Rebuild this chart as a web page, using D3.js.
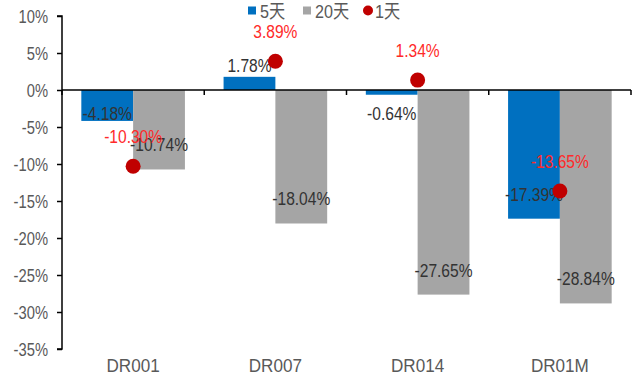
<!DOCTYPE html>
<html>
<head>
<meta charset="utf-8">
<script src="https://cdn.jsdelivr.net/npm/d3@7"></script>
<style>
  html, body { margin: 0; padding: 0; background: #fff; }
  svg { display: block; }
  text { font-family: "Liberation Sans", Arial, "Noto Sans CJK SC", sans-serif; }
</style>
</head>
<body>
<svg id="chart" width="640" height="378"></svg>
<script>
// Categories and series (percent changes)
const categories = ["DR001", "DR007", "DR014", "DR01M"];
const seriesNames = ["5天", "20天"];
const values5d = [-4.18, 1.78, -0.64, -17.39];
const values20d = [-10.74, -18.04, -27.65, -28.84];
const values1d = [-10.30, 3.89, 1.34, -13.65];
const yTicks = [10, 5, 0, -5, -10, -15, -20, -25, -30, -35];

const barColors = { "5天": "#0070C0", "20天": "#A5A5A5" };
const dotColor = "#C00000";
const dotLabelColor = "#FF2A2A";

// condensed look for all labels
const SQUEEZE = 0.82;
const place = (sel, fx, fy, sx = SQUEEZE) =>
  sel.attr("transform", (d, i) => `translate(${fx(d, i)},${fy(d, i)}) scale(${sx},1)`);

const svg = d3.select("#chart");
const plotLeft = 62, plotRight = 631, plotTop = 16, plotBottom = 349;

const y = d3.scaleLinear().domain([-35, 10]).range([plotBottom, plotTop]);
const x0 = d3.scaleBand().domain(categories).range([plotLeft, plotRight]);
const groupW = 103.6;
const x1 = d3.scaleBand().domain(seriesNames)
  .range([(x0.bandwidth() - groupW) / 2, (x0.bandwidth() + groupW) / 2]);

const rows = categories.map((c, i) => ({
  cat: c,
  bars: [
    { key: "5天", v: values5d[i] },
    { key: "20天", v: values20d[i] }
  ],
  day1: values1d[i]
}));

const fmt = v => v.toFixed(2) + "%";

// Bars
const grp = svg.append("g").selectAll("g.cat").data(rows).join("g")
  .attr("class", "cat")
  .attr("transform", d => `translate(${x0(d.cat)},0)`);

grp.selectAll("rect").data(d => d.bars).join("rect")
  .attr("x", d => x1(d.key))
  .attr("width", x1.bandwidth())
  .attr("y", d => Math.min(y(d.v), y(0)))
  .attr("height", d => Math.abs(y(d.v) - y(0)))
  .attr("fill", d => barColors[d.key]);

// Y axis
const yAxis = d3.axisLeft(y).tickValues(yTicks).tickSize(5).tickPadding(0)
  .tickFormat(d => d + "%");
const ya = svg.append("g").attr("transform", `translate(${plotLeft},0)`).call(yAxis);
ya.select(".domain").attr("stroke", "#000").attr("stroke-width", 1.5)
  .attr("d", `M-5,${y(10)}H0V${y(-35)}H-5`);
ya.selectAll(".tick line").attr("stroke", "#000").attr("stroke-width", 1.5);
ya.selectAll(".tick text")
  .attr("fill", "#595959").attr("font-size", 18)
  .attr("font-family", "Liberation Sans, Arial, sans-serif")
  .attr("x", null).attr("dy", "0.35em")
  .attr("transform", `translate(-14,0) scale(${SQUEEZE},1)`);

// Zero line with category separators
const xAxis = d3.axisBottom(x0).tickSize(0).tickFormat("");
const xa = svg.append("g").attr("transform", `translate(0,${y(0)})`).call(xAxis);
xa.select(".domain").attr("stroke", "#000").attr("stroke-width", 1.5)
  .attr("d", `M${plotLeft},0H${plotRight}`);
const seps = d3.range(categories.length + 1).map(i => plotLeft + i * x0.step());
xa.selectAll("line.sep").data(seps).join("line")
  .attr("class", "sep")
  .attr("x1", d => d).attr("x2", d => d)
  .attr("y1", 0).attr("y2", 5)
  .attr("stroke", "#000").attr("stroke-width", 1.5);

// Category labels at the bottom
svg.append("g").selectAll("text").data(categories).join("text")
  .call(place, d => x0(d) + x0.bandwidth() / 2, () => 372, 0.9)
  .attr("text-anchor", "middle")
  .attr("font-size", 19)
  .attr("fill", "#595959")
  .text(d => d);

// Bar value labels
grp.selectAll("text.val").data(d => d.bars).join("text")
  .attr("class", "val")
  .call(place,
    d => x1(d.key) + x1.bandwidth() / 2,
    d => d.v >= 0 ? y(d.v) - 5 : Math.max(y(d.v) - 18, y(0) + 30))
  .attr("text-anchor", "middle")
  .attr("font-size", 19)
  .attr("fill", "#333")
  .text(d => fmt(d.v));

// 1-day markers and labels
const cx = d => x0(d.cat) + x0.bandwidth() / 2;
svg.append("g").selectAll("circle").data(rows).join("circle")
  .attr("cx", cx)
  .attr("cy", d => y(d.day1))
  .attr("r", 7.5)
  .attr("fill", dotColor);
svg.append("g").selectAll("text").data(rows).join("text")
  .call(place, cx, d => y(d.day1) - 23)
  .attr("text-anchor", "middle")
  .attr("font-size", 19)
  .attr("fill", dotLabelColor)
  .text(d => fmt(d.day1));

// Legend
const legend = svg.append("g").attr("font-size", 19).attr("fill", "#595959");
const legItems = [
  { name: "5天", type: "rect", color: barColors["5天"], x: 248 },
  { name: "20天", type: "rect", color: barColors["20天"], x: 303 },
  { name: "1天", type: "circle", color: dotColor, x: 363 }
];
legItems.forEach(it => {
  if (it.type === "rect") {
    legend.append("rect").attr("x", it.x).attr("y", 6.5).attr("width", 8).attr("height", 8)
      .attr("fill", it.color);
  } else {
    legend.append("circle").attr("cx", it.x + 5).attr("cy", 10.5).attr("r", 5)
      .attr("fill", it.color);
  }
  legend.append("text")
    .attr("transform", `translate(${it.x + 12},18) scale(0.85,1)`)
    .text(it.name);
});
</script>
</body>
</html>
